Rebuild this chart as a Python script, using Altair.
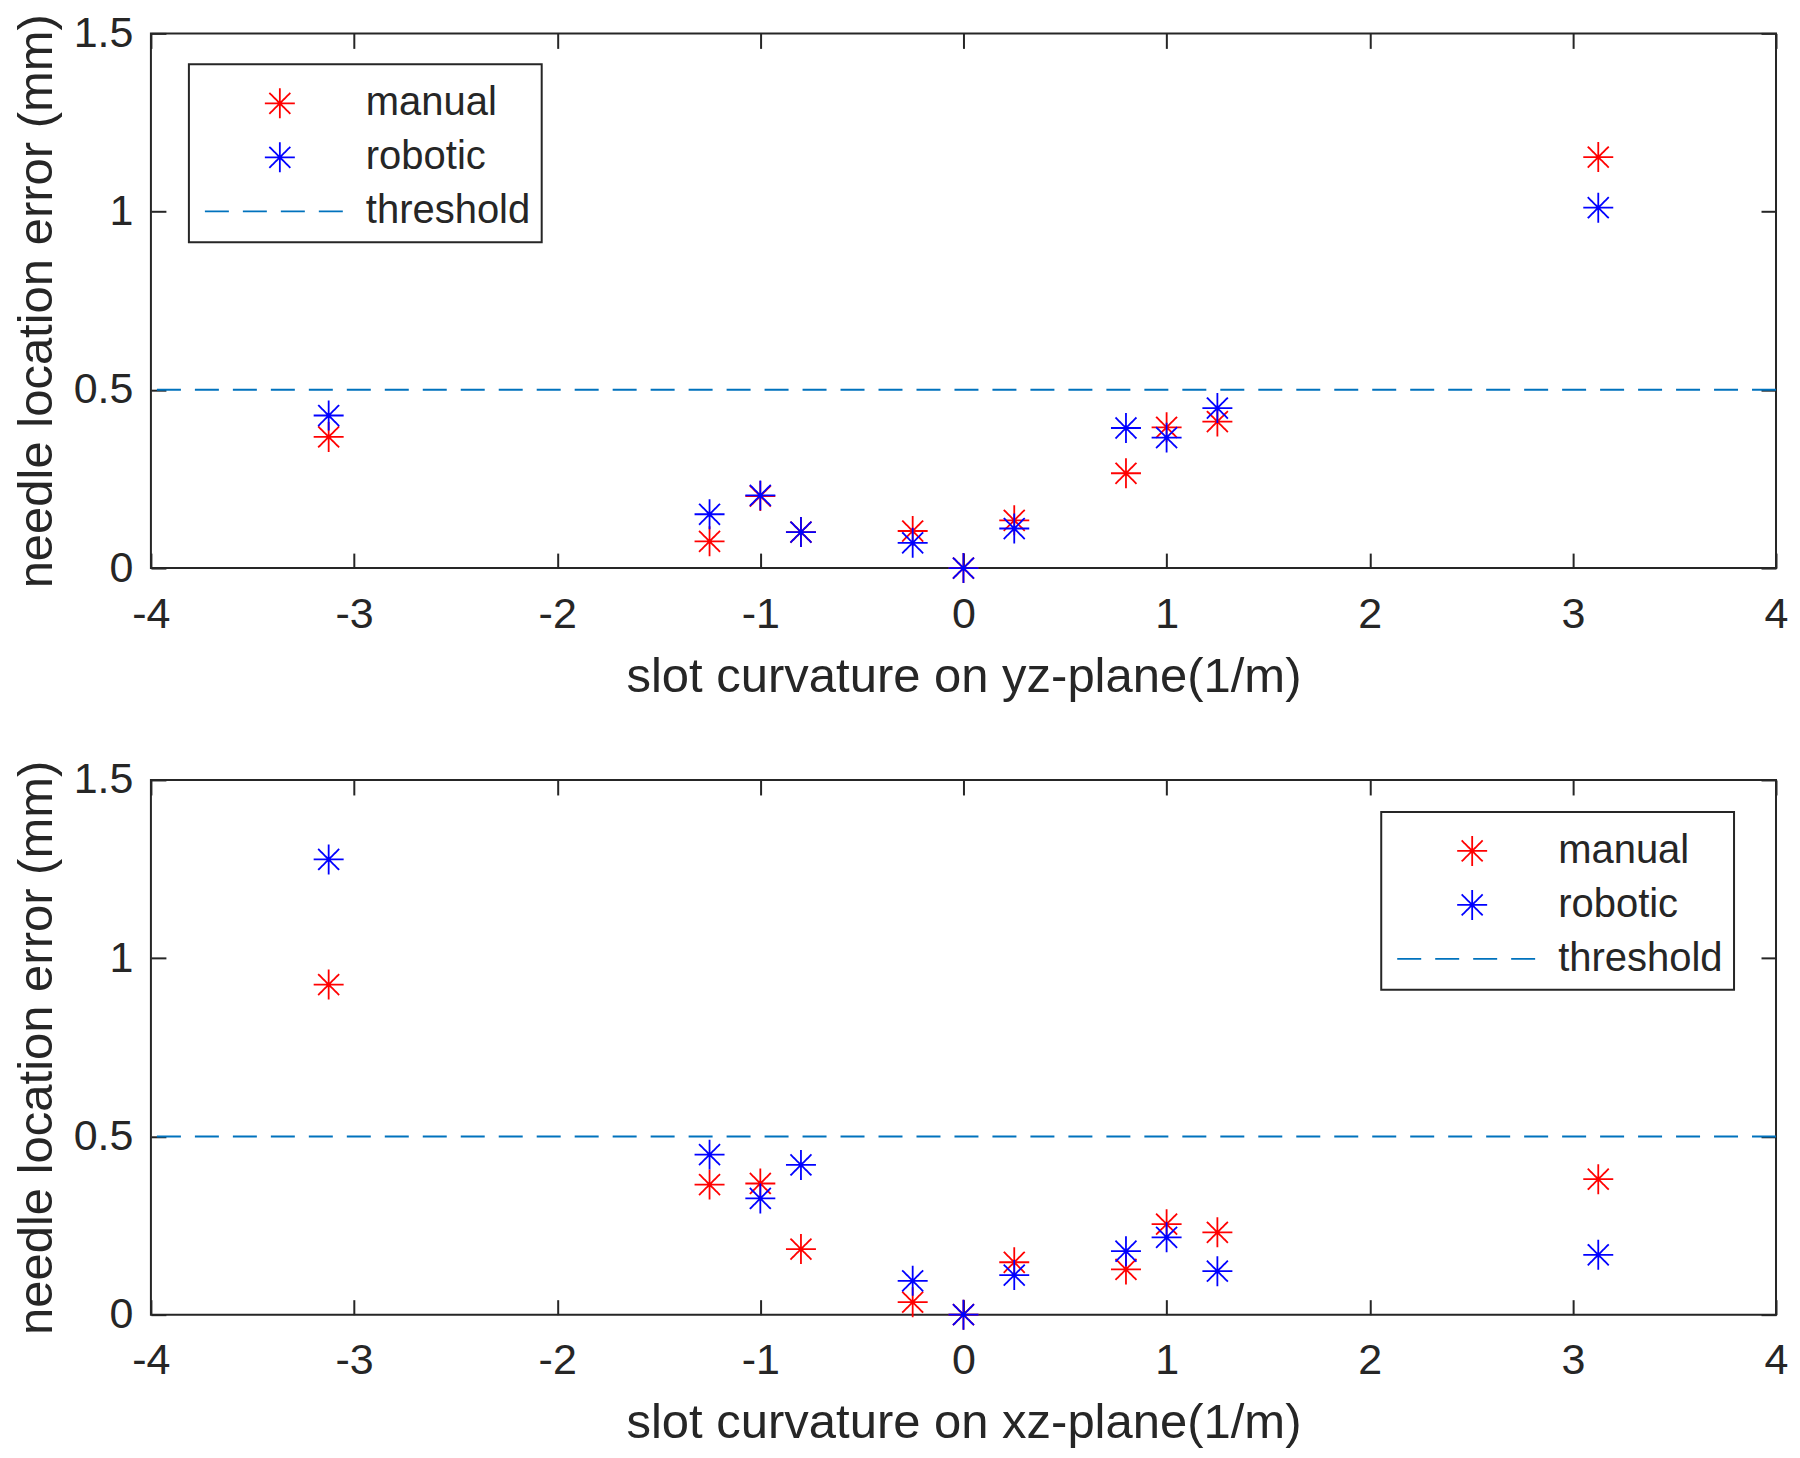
import altair as alt
import pandas as pd

# ---- data ----
curvature = [-3.125, -1.25, -1.0, -0.8, -0.25, 0.0, 0.25, 0.8, 1.0, 1.25, 3.125]
manual_yz = [0.368, 0.075, 0.202, 0.101, 0.104, 0.0, 0.134, 0.266, 0.395, 0.411, 1.153]
robotic_yz = [0.428, 0.151, 0.204, 0.101, 0.071, 0.0, 0.111, 0.393, 0.366, 0.449, 1.011]
manual_xz = [0.926, 0.365, 0.368, 0.184, 0.035, 0.0, 0.147, 0.127, 0.254, 0.231, 0.380]
robotic_xz = [1.277, 0.449, 0.326, 0.420, 0.095, 0.0, 0.111, 0.178, 0.217, 0.122, 0.168]
threshold = [0.5]

series_names = ["manual", "robotic", "threshold"]
series_colors = ["#FF0000", "#0000FF", "#0072BD"]
x_ticks = [-4, -3, -2, -1, 0, 1, 2, 3, 4]
y_ticks = [0, 0.5, 1, 1.5]
y_title = "needle location error (mm)"
x_title_top = "slot curvature on yz-plane(1/m)"
x_title_bottom = "slot curvature on xz-plane(1/m)"

STAR = "M-1,0L1,0M0,-1L0,1M-0.7,-0.7L0.7,0.7M-0.7,0.7L0.7,-0.7"
LINE = "M-5,0L4.5,0"
DASH = [24, 14]

FONT = "Liberation Sans"
INK = "#262626"
W, H = 1626, 535


def panel(manual, robotic, xtitle, lx, ly):
    df = pd.DataFrame({
        "curvature": curvature + curvature,
        "error": manual + robotic,
        "series": ["manual"] * len(curvature) + ["robotic"] * len(curvature),
    })
    thr = pd.DataFrame({"value": threshold})
    xscale = alt.Scale(domain=[-4, 4], nice=False, zero=False)
    yscale = alt.Scale(domain=[0, 1.5], nice=False, zero=False)

    legend = alt.Legend(
        title=" ", titleFontSize=8, titlePadding=0, titleFont=FONT,
        orient="none", legendX=lx, legendY=ly,
        labelFont=FONT, labelFontSize=40, labelColor=INK, labelLimit=400,
        symbolSize=900, symbolStrokeWidth=1.8, symbolOffset=60, labelOffset=66,
        padding=11, rowPadding=14, strokeColor=INK, fillColor="white",
    )

    points = alt.Chart(df).mark_point(filled=False, opacity=1, size=900, strokeWidth=1.8).encode(
        x=alt.X("curvature:Q", scale=xscale, axis=alt.Axis(
            orient="bottom", values=x_ticks, title=xtitle, offset=-15, tickSize=15,
            labelPadding=25, titlePadding=16, domain=False, grid=False, labelFlush=False,
            labelExpr="'' + datum.value")),
        y=alt.Y("error:Q", scale=yscale, axis=alt.Axis(
            orient="left", values=y_ticks, title=y_title, offset=-15, tickSize=15,
            labelPadding=18, titlePadding=12, domain=False, grid=False, labelFlush=False,
            labelExpr="'' + datum.value")),
        color=alt.Color("series:N", scale=alt.Scale(domain=series_names, range=series_colors), legend=legend),
        shape=alt.Shape("series:N", scale=alt.Scale(domain=series_names, range=[STAR, STAR, LINE]), legend=legend),
        strokeDash=alt.StrokeDash("series:N", scale=alt.Scale(domain=series_names, range=[[1, 0], [1, 0], DASH]), legend=legend),
    )

    rule = alt.Chart(thr).mark_rule(color="#0072BD", strokeWidth=2, strokeDash=DASH).encode(
        y=alt.Y("value:Q", scale=yscale, axis=None)
    )

    frame = alt.Chart(df).mark_point(opacity=0).encode(
        x=alt.X("curvature:Q", scale=xscale, axis=alt.Axis(
            orient="top", values=x_ticks, labels=False, title="", offset=-15, tickSize=15,
            domain=False, grid=False)),
        y=alt.Y("error:Q", scale=yscale, axis=alt.Axis(
            orient="right", values=y_ticks, labels=False, title="", offset=-15, tickSize=15,
            domain=False, grid=False)),
    )

    return alt.layer(rule, points, frame).resolve_scale(
        x="independent", y="independent"
    ).resolve_axis(
        x="independent", y="independent"
    ).properties(width=W, height=H)


top = panel(manual_yz, robotic_yz, x_title_top, 38, 31)
bottom = panel(manual_xz, robotic_xz, x_title_bottom, 1231, 32)

chart = alt.vconcat(top, bottom, spacing=56).resolve_scale(
    color="independent", shape="independent", strokeDash="independent"
).resolve_legend(
    color="independent", shape="independent", strokeDash="independent"
).properties(
    padding={"left": 3, "top": 3, "right": 3, "bottom": 3}
).configure_view(
    stroke=INK, strokeWidth=2
).configure_axis(
    labelFont=FONT, labelFontSize=43, labelColor=INK,
    titleFont=FONT, titleFontSize=49, titleFontWeight="normal", titleColor=INK,
    tickColor=INK, tickWidth=2,
).configure_legend(
    strokeWidth=2
)

chart.save("out.html", embed_options={"renderer": "svg", "actions": False})
